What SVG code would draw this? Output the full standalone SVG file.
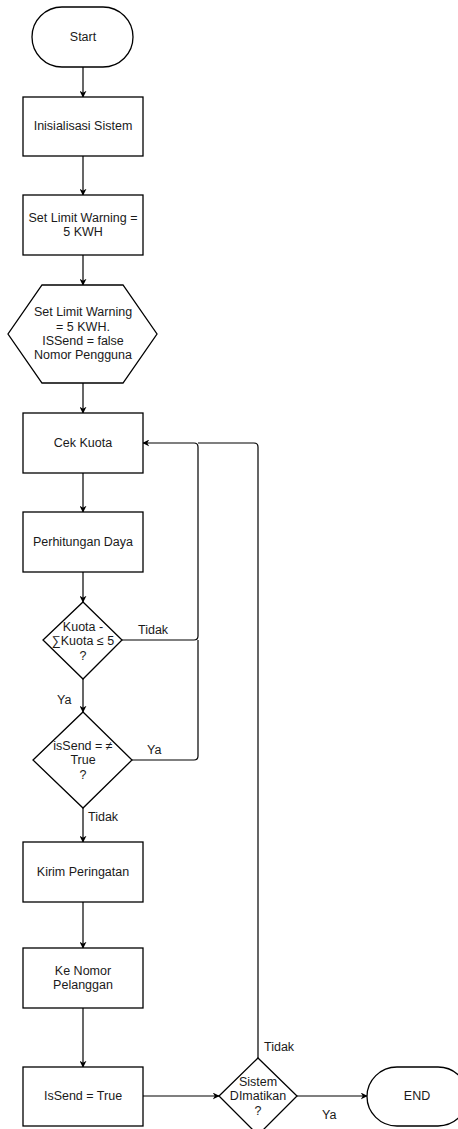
<svg xmlns="http://www.w3.org/2000/svg" width="458" height="1129" viewBox="0 0 458 1129">
<style>
.s{fill:#fff;stroke:#000;stroke-width:1.3}
.t{font-family:"Liberation Sans",Arial,sans-serif;font-size:12.5px;fill:#1a1a1a;text-anchor:middle;dominant-baseline:central}
.l{font-family:"Liberation Sans",Arial,sans-serif;font-size:12.5px;fill:#1a1a1a;dominant-baseline:central}
.c{fill:none;stroke:#000;stroke-width:1.2}
</style>
<defs>
<marker id="a" viewBox="0 0 10 10" refX="9" refY="5" markerWidth="7" markerHeight="7" orient="auto" markerUnits="userSpaceOnUse">
<path d="M0,0 L10,5 L0,10 L3,5 Z" fill="#000"/>
</marker>
</defs>
<rect width="458" height="1129" fill="#fff"/>
<g id="connectors">
<path class="c" d="M83,67 V97" marker-end="url(#a)"/>
<path class="c" d="M83,156 V195" marker-end="url(#a)"/>
<path class="c" d="M83,255 V285" marker-end="url(#a)"/>
<path class="c" d="M83,383 V413" marker-end="url(#a)"/>
<path class="c" d="M83,473 V512" marker-end="url(#a)"/>
<path class="c" d="M83,572 V602" marker-end="url(#a)"/>
<path class="c" d="M83,679 V712" marker-end="url(#a)"/>
<path class="c" d="M83,808 V842" marker-end="url(#a)"/>
<path class="c" d="M83,902 V948" marker-end="url(#a)"/>
<path class="c" d="M83,1008 V1067" marker-end="url(#a)"/>
<path class="c" d="M122,640 H194 Q198,640 198,636 V447 Q198,443 194,443 H143" marker-end="url(#a)"/>
<path class="c" d="M132,760 H194 Q198,760 198,756 V640"/>
<path class="c" d="M258,1058 V447 Q258,443 254,443 H198"/>
<path class="c" d="M143,1096 H219" marker-end="url(#a)"/>
<path class="c" d="M297,1096 H367" marker-end="url(#a)"/>
<text class="l" x="138" y="630">Tidak</text>
<text class="l" x="57" y="700">Ya</text>
<text class="l" x="147" y="750">Ya</text>
<text class="l" x="88" y="817">Tidak</text>
<text class="l" x="264" y="1047">Tidak</text>
<text class="l" x="322" y="1115">Ya</text>
</g>
<g id="start"><rect class="s" x="32" y="7" width="101" height="60" rx="30"/><text class="t" x="83" y="37">Start</text></g>
<g id="init"><rect class="s" x="23" y="97" width="120" height="59"/><text class="t" x="83" y="126">Inisialisasi Sistem</text></g>
<g id="setlimit"><rect class="s" x="23" y="195" width="120" height="60"/><text class="t" x="83" y="218">Set Limit Warning =</text><text class="t" x="83" y="232">5 KWH</text></g>
<g id="prep"><polygon class="s" points="42,285 123,285 157,334 123,383 42,383 8,334"/>
<text class="t" x="83" y="312">Set Limit Warning</text><text class="t" x="83" y="327">= 5 KWH.</text><text class="t" x="83" y="341">ISSend = false</text><text class="t" x="83" y="355">Nomor Pengguna</text></g>
<g id="cek"><rect class="s" x="23" y="413" width="120" height="60"/><text class="t" x="83" y="443">Cek Kuota</text></g>
<g id="hitung"><rect class="s" x="23" y="512" width="120" height="60"/><text class="t" x="83" y="542">Perhitungan Daya</text></g>
<g id="d1"><polygon class="s" points="83,602 122,640 83,679 43,640"/>
<text class="t" x="83" y="627">Kuota -</text><text class="t" x="83" y="641">∑Kuota ≤ 5</text><text class="t" x="83" y="656">?</text></g>
<g id="d2"><polygon class="s" points="83,712 132,760 83,808 33,760"/>
<text class="t" x="83" y="746">isSend = ≠</text><text class="t" x="83" y="760">True</text><text class="t" x="83" y="775">?</text></g>
<g id="kirim"><rect class="s" x="23" y="842" width="120" height="60"/><text class="t" x="83" y="872">Kirim Peringatan</text></g>
<g id="nomor"><rect class="s" x="23" y="948" width="120" height="60"/><text class="t" x="83" y="971">Ke Nomor</text><text class="t" x="83" y="985">Pelanggan</text></g>
<g id="issend"><rect class="s" x="23" y="1067" width="120" height="59"/><text class="t" x="83" y="1096">IsSend = True</text></g>
<g id="d3"><polygon class="s" points="258,1058 297,1096 258,1135 219,1096"/>
<text class="t" x="258" y="1082">Sistem</text><text class="t" x="258" y="1096">DImatikan</text><text class="t" x="258" y="1111">?</text></g>
<g id="end"><rect class="s" x="367" y="1067" width="101" height="59" rx="30"/><text class="t" x="417" y="1096">END</text></g>
</svg>
